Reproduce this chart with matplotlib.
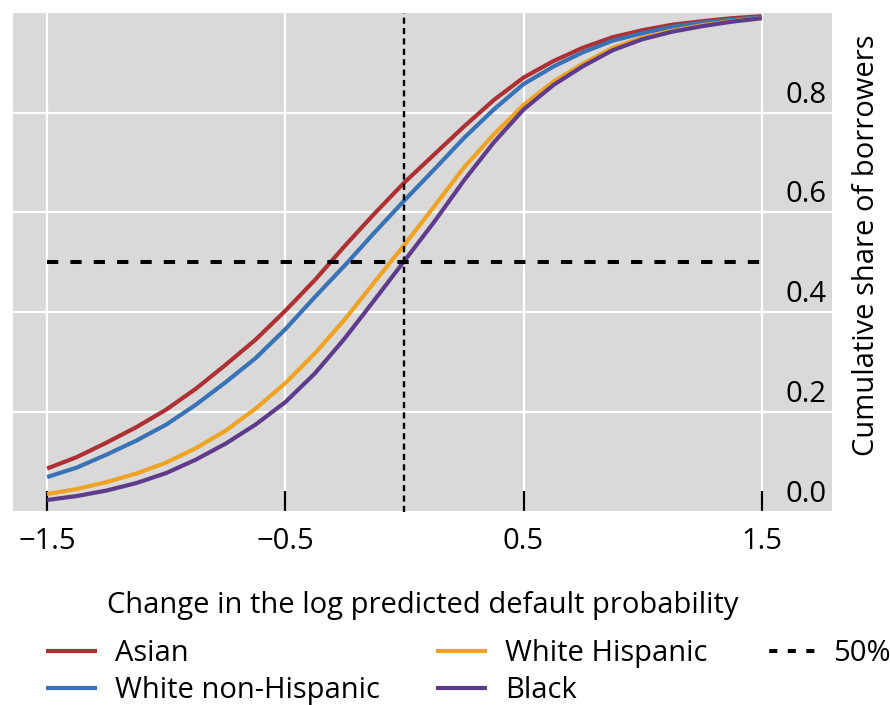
import matplotlib
matplotlib.use("Agg")
import matplotlib.pyplot as plt
import matplotlib.transforms as mtransforms
from matplotlib.lines import Line2D

plt.rcParams['font.family'] = ['Open Sans', 'DejaVu Sans']

x_vals = [-1.5, -1.375, -1.25, -1.125, -1.0, -0.875, -0.75, -0.625, -0.5,
          -0.375, -0.25, -0.125, 0.0, 0.125, 0.25, 0.375, 0.5, 0.625, 0.75,
          0.875, 1.0, 1.125, 1.25, 1.375, 1.5]

asian = [0.087, 0.110, 0.139, 0.170, 0.205, 0.247, 0.295, 0.345, 0.403,
         0.465, 0.533, 0.598, 0.660, 0.716, 0.772, 0.825, 0.870, 0.903, 0.930,
         0.951, 0.965, 0.976, 0.983, 0.989, 0.993]
white_nh = [0.070, 0.089, 0.115, 0.143, 0.175, 0.215, 0.260, 0.308, 0.366,
            0.431, 0.494, 0.560, 0.624, 0.686, 0.749, 0.806, 0.857, 0.892, 0.921,
            0.944, 0.959, 0.972, 0.980, 0.986, 0.991]
white_h = [0.036, 0.046, 0.060, 0.077, 0.099, 0.128, 0.163, 0.207, 0.258,
           0.318, 0.386, 0.461, 0.535, 0.612, 0.690, 0.756, 0.815, 0.862, 0.898,
           0.930, 0.950, 0.964, 0.975, 0.983, 0.989]
black = [0.024, 0.032, 0.043, 0.058, 0.078, 0.105, 0.137, 0.175, 0.220,
         0.278, 0.348, 0.425, 0.503, 0.581, 0.664, 0.740, 0.806, 0.855, 0.893,
         0.925, 0.947, 0.962, 0.973, 0.982, 0.989]

series_names = ["Asian", "White non-Hispanic", "White Hispanic", "Black"]
series_vals = [asian, white_nh, white_h, black]
series_colors = ["#AD3034", "#3A72B6", "#EEA323", "#5F3B8C"]

ref_x = [-1.5, 1.5]
ref_y = [0.5, 0.5]
ref_label = "50%"

x_ticks = [-1.5, -0.5, 0.5, 1.5]
x_tick_labels = ["\u22121.5", "\u22120.5", "0.5", "1.5"]
y_ticks = [0.0, 0.2, 0.4, 0.6, 0.8]
y_tick_labels = ["0.0", "0.2", "0.4", "0.6", "0.8"]

FS = 21

fig = plt.figure(figsize=(8.9, 7.05), dpi=100)
ax = fig.add_axes([13/890, 1-512/705, (832-13)/890, (512-12.7)/705])
ax.set_facecolor("#D9D9D9")
for s in ax.spines.values():
    s.set_visible(False)

ax.set_xlim(-1.643, 1.795)
ax.set_ylim(0, 1.0)

ax.set_xticks(x_ticks)
ax.set_xticklabels(x_tick_labels)
ax.set_yticks(y_ticks)
ax.set_yticklabels(y_tick_labels)
ax.grid(True, color="white", linewidth=1.6)
ax.set_axisbelow(True)

ax.tick_params(axis='x', direction='in', length=15, width=1.6, color='black',
               labelsize=FS, pad=11)
ax.yaxis.tick_right()
ax.tick_params(axis='y', length=0, labelsize=FS, pad=-4)
up = mtransforms.ScaledTranslation(0, 3/100, fig.dpi_scale_trans)
for lbl in ax.get_yticklabels():
    lbl.set_ha('right')
    lbl.set_va('bottom')
    lbl.set_transform(lbl.get_transform() + up)

handles = []
for name, vals, col in zip(series_names, series_vals, series_colors):
    h, = ax.plot(x_vals, vals, color=col, linewidth=3.0, label=name,
                 solid_capstyle='butt', solid_joinstyle='round', zorder=3)
    handles.append(h)

ax.axvline(0, color='black', linewidth=1.7, linestyle=(0, (2.6, 1.8)), zorder=4)
ax.plot(ref_x, ref_y, color='black', linewidth=2.9,
        linestyle=(0, (2.8, 3.0)), zorder=4)
handles.append(Line2D([], [], color='black', linewidth=2.9,
                      linestyle=(3.3, (2.0, 2.6)), label=ref_label))

ax.set_xlabel("Change in the log predicted default probability", fontsize=FS,
              labelpad=25)
ax.yaxis.set_label_position('right')
ax.set_ylabel("Cumulative share of borrowers", fontsize=FS, rotation=90)
ax.yaxis.set_label_coords(1.025, 0.535)

fig.legend(handles=handles, ncol=3, loc='upper left',
           bbox_to_anchor=(46/890, 1-639/705), frameon=False, fontsize=FS,
           handlelength=1.75, handletextpad=0.62, columnspacing=1.92,
           labelspacing=0.27, borderpad=0, borderaxespad=0)

fig.savefig("out.png", dpi=100)
